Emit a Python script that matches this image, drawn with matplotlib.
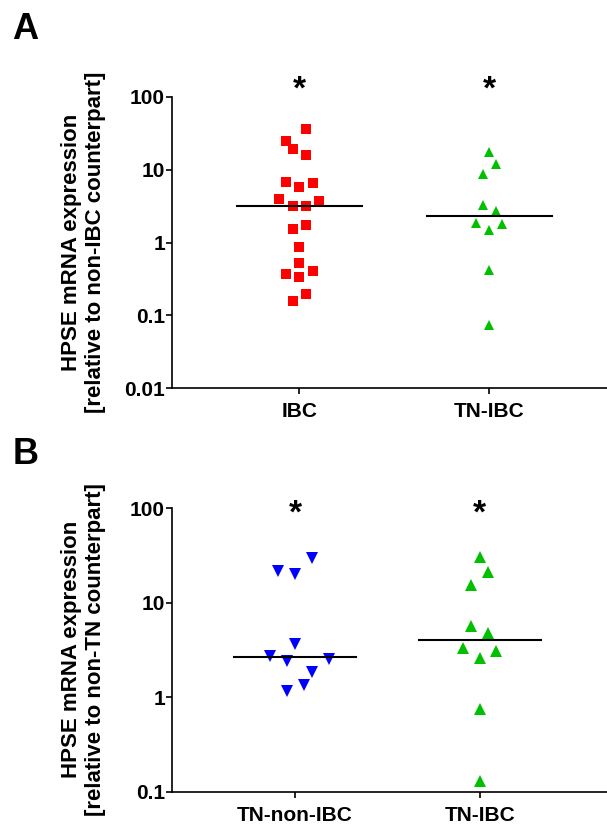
import matplotlib
matplotlib.use("Agg")
import matplotlib.pyplot as plt
import numpy as np

plt.rcParams['font.family'] = ['Liberation Sans', 'DejaVu Sans']
plt.rcParams['font.weight'] = 'bold'

# panel A: relative to non-IBC counterpart
a_groups = ["IBC", "TN-IBC"]
a_ibc = [36, 25, 18.9, 16, 6.8, 5.8, 6.65, 4.0, 3.19, 3.15, 3.73,
         1.52, 1.73, 0.88, 0.52, 0.367, 0.334, 0.413, 0.16, 0.194]
a_ibc_slot = [1, -2, -1, 1, -2, 0, 2, -3, -1, 1, 3,
              -1, 1, 0, 0, -2, 0, 2, -1, 1]
a_tn = [17.3, 11.9, 8.84, 3.25, 2.72, 1.86, 1.78, 1.49, 0.417, 0.075]
a_tn_slot = [0, 1, -1, -1, 1, -2, 2, 0, 0, 0]

# panel B: relative to non-TN counterpart
b_groups = ["TN-non-IBC", "TN-IBC"]
b_nonibc = [29.9, 21.6, 20, 3.66, 2.71, 2.40, 2.54, 1.85, 1.33, 1.17]
b_nonibc_slot = [2, -2, 0, 0, -3, -1, 4, 2, 1, -1]
b_tn = [30.6, 21, 15.5, 5.71, 4.75, 3.30, 3.09, 2.60, 0.74, 0.131]
b_tn_slot = [0, 1, -1, -1, 1, -2, 2, 0, 0, 0]

RED = "#ff0000"
GREEN = "#00c000"
BLUE = "#0000ff"

fig = plt.figure(figsize=(6.07, 8.25), dpi=100)


def panel(ax, groups, series, ylim, xlim, step, star_y):
    for i, (vals, slots, marker, color, ms) in enumerate(series):
        x = i + np.array(slots) * step
        ax.plot(x, vals, linestyle="none", marker=marker, color=color,
                markersize=ms, markeredgewidth=0, clip_on=False, zorder=3)
        med = np.median(vals)
        ax.plot([i - 0.33, i + 0.33], [med, med], color="black", lw=1.5, zorder=4)
        ax.text(i, star_y, "*", ha="center", va="center", fontsize=24,
                fontweight="bold")
    ax.set_yscale("log")
    ax.set_ylim(*ylim)
    ax.set_xlim(*xlim)
    ax.set_xticks(range(len(groups)))
    ax.set_xticklabels(groups)
    ax.yaxis.set_major_formatter(matplotlib.ticker.FuncFormatter(
        lambda v, p: ("%g" % v)))
    ax.yaxis.set_minor_locator(matplotlib.ticker.NullLocator())
    for s in ["top", "right"]:
        ax.spines[s].set_visible(False)
    for s in ["left", "bottom"]:
        ax.spines[s].set_linewidth(1.2)
    ax.tick_params(axis="y", length=4, width=1.2, pad=1, labelsize=15)
    ax.tick_params(axis="x", length=4, width=1.2, pad=6, labelsize=15)


axA = fig.add_axes([0.2834, 0.5293, 0.7166, 0.3535])
panel(axA, a_groups,
      [(a_ibc, a_ibc_slot, "s", RED, 6.5), (a_tn, a_tn_slot, "^", GREEN, 7.2)],
      (0.01, 100), (-0.67, 1.62), 0.0348, 123)
axA.set_ylabel("HPSE mRNA expression\n[relative to non-IBC counterpart]",
               fontsize=16, fontweight="bold")
axA.yaxis.set_label_coords(-0.152, 0.5)

axB = fig.add_axes([0.2834, 0.0404, 0.7166, 0.3438])
panel(axB, b_groups,
      [(b_nonibc, b_nonibc_slot, "v", BLUE, 8.6), (b_tn, b_tn_slot, "^", GREEN, 8.6)],
      (0.1, 100), (-0.667, 1.69), 0.0456, 86)
axB.set_ylabel("HPSE mRNA expression\n[relative to non-TN counterpart]",
               fontsize=16, fontweight="bold")
axB.yaxis.set_label_coords(-0.152, 0.5)

fig.text(0.02, 0.985, "A", fontsize=26, fontweight="bold", va="top", ha="left")
fig.text(0.02, 0.47, "B", fontsize=26, fontweight="bold", va="top", ha="left")

fig.savefig("out.png", dpi=100)
